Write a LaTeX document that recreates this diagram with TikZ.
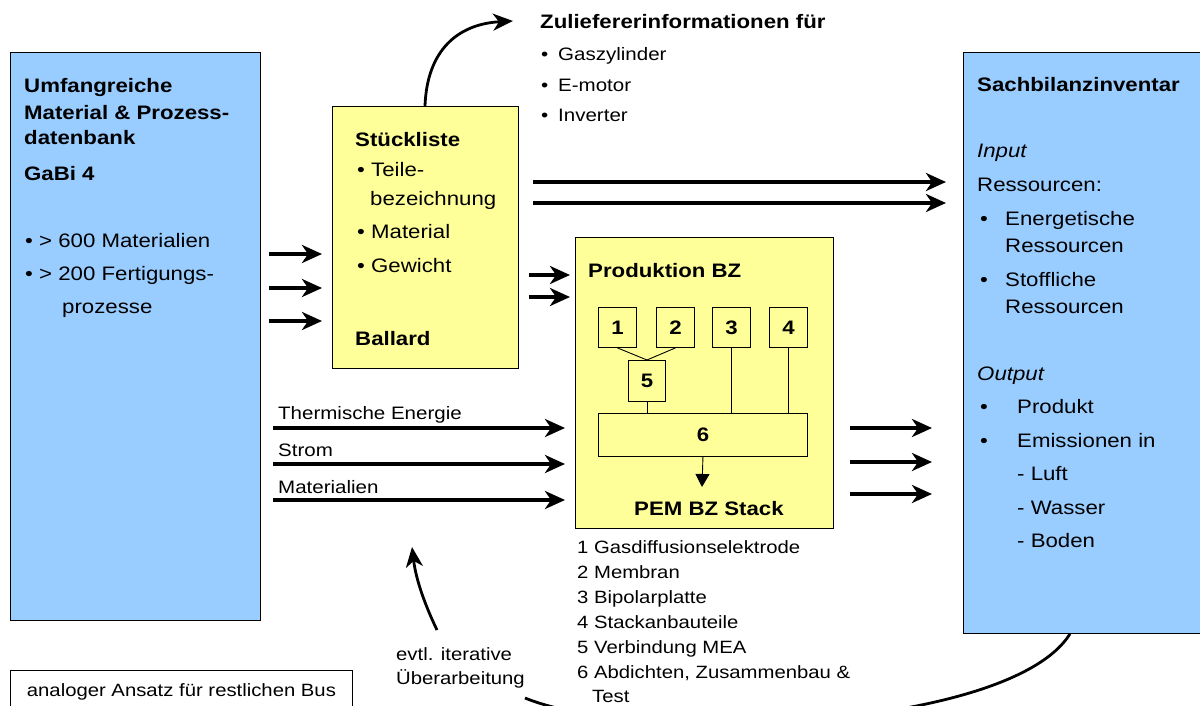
\documentclass[tikz,border=0pt]{standalone}
\usepackage{fontspec}
\setmainfont{Liberation Sans}[FakeStretch=1.14]
\usetikzlibrary{arrows.meta,calc}
\definecolor{lblue}{HTML}{99CCFF}
\definecolor{lyellow}{HTML}{FFFF99}
\begin{document}
\begin{tikzpicture}[x=1pt,y=-1pt,
  panel/.style={draw=black, line width=0.9pt, inner sep=0pt, anchor=north west},
  bluepanel/.style={panel, fill=lblue},
  yelpanel/.style={panel, fill=lyellow},
  numbox/.style={draw=black, line width=0.9pt, inner sep=0pt, anchor=north west, font=\fontsize{19.5}{22}\selectfont\bfseries},
  tx/.style={anchor=base west, inner sep=0pt, font=\fontsize{19.5}{22}\selectfont},
  btx/.style={tx, font=\fontsize{19.5}{22}\selectfont\bfseries},
  itx/.style={tx, font=\fontsize{19.5}{22}\selectfont\itshape},
  stx/.style={tx, font=\fontsize{17.8}{20}\selectfont},
  flow/.style={line width=3.6pt, -{Stealth[length=20pt,width=18pt,inset=6pt]}},
  curvearr/.style={line width=2.8pt, -{Stealth[length=20pt,width=17pt,inset=6pt]}},
  backline/.style={line width=2.8pt},
  link/.style={line width=0.9pt},
]
\useasboundingbox (0,0) rectangle (1200,706);
\clip (0,0) rectangle (1200,706);

% ---------- left database box ----------
\node[bluepanel, minimum width=250pt, minimum height=568pt] (L) at (10,52) {};
\node[btx] (l1) at (24,93) {Umfangreiche};
\node[btx] (l2) at (24,120) {Material \& Prozess-};
\node[btx] (l3) at (24,145) {datenbank};
\node[btx] (l4) at (24,180) {GaBi 4};
\node[tx] (l5) at (25,247) {• > 600 Materialien};
\node[tx] (l6) at (25,280) {• > 200 Fertigungs-};
\node[tx] (l7) at (62,313) {prozesse};

% ---------- Stueckliste ----------
\node[yelpanel, minimum width=186pt, minimum height=262pt] (S) at (332,106) {};
\node[btx] (s1) at (355,147) {Stückliste};
\node[tx] (s2) at (357,177) {• Teile-};
\node[tx] (s3) at (370,205) {bezeichnung};
\node[tx] (s4) at (357,238) {• Material};
\node[tx] (s5) at (357,272) {• Gewicht};
\node[btx] (s6) at (355,345) {Ballard};

% ---------- Zulieferer ----------
\node[btx] (z0) at (540,29) {Zuliefererinformationen für};
\node[tx, font=\fontsize{18}{20}\selectfont] (zb1) at (541,61) {•};
\node[tx, font=\fontsize{18}{20}\selectfont] (z1) at (558,61) {Gaszylinder};
\node[tx, font=\fontsize{18}{20}\selectfont] (zb2) at (541,92) {•};
\node[tx, font=\fontsize{18}{20}\selectfont] (z2) at (558,92) {E-motor};
\node[tx, font=\fontsize{18}{20}\selectfont] (zb3) at (541,122) {•};
\node[tx, font=\fontsize{18}{20}\selectfont] (z3) at (558,122) {Inverter};
\coordinate (ztip) at (513,21);
\draw[curvearr] (S.north -| 425,0) .. controls (427,50) and (458,24) .. (ztip);

% ---------- Produktion BZ ----------
\node[yelpanel, minimum width=258pt, minimum height=291pt] (P) at (575,237) {};
\node[btx] (p0) at (588,277) {Produktion BZ};
\node[numbox, minimum width=38pt, minimum height=40pt] (b1) at (598,307) {1};
\node[numbox, minimum width=38pt, minimum height=40pt] (b2) at (656,307) {2};
\node[numbox, minimum width=38pt, minimum height=40pt] (b3) at (712,307) {3};
\node[numbox, minimum width=38pt, minimum height=40pt] (b4) at (769,307) {4};
\node[numbox, minimum width=37pt, minimum height=41pt] (b5) at (628,360) {5};
\node[numbox, minimum width=209pt, minimum height=43pt] (b6) at (598,413) {6};
\draw[link] (b1.south) -- (b5.north);
\draw[link] (b2.south) -- (b5.north);
\draw[link] (b5.south) -- (b5.south |- b6.north);
\draw[link] (b3.south) -- (b3.south |- b6.north);
\draw[link] (b4.south) -- (b4.south |- b6.north);
\node[btx] (pem) at (634,515) {PEM BZ Stack};
\coordinate (pemtop) at (702,487);
\draw[link, -{Triangle[length=13pt,width=14pt]}] (b6.south) -- (pemtop);

% ---------- legend ----------
\node[stx] (g1) at (577,553) {1 Gasdiffusionselektrode};
\node[stx] (g2) at (577,578) {2 Membran};
\node[stx] (g3) at (577,603) {3 Bipolarplatte};
\node[stx] (g4) at (577,628) {4 Stackanbauteile};
\node[stx] (g5) at (577,653) {5 Verbindung MEA};
\node[stx] (g6) at (577,678) {6 Abdichten, Zusammenbau \&};
\node[stx] (g7) at (592,702) {Test};

% ---------- right inventory box ----------
\node[bluepanel, minimum width=260pt, minimum height=581pt] (R) at (963,52) {};
\node[btx] (r0) at (977,92) {Sachbilanzinventar};
\node[itx] (r1) at (977,158) {Input};
\node[tx] (r2) at (977,192) {Ressourcen:};
\node[tx] (rb1) at (980,225) {•};
\node[tx] (r3) at (1005,225) {Energetische};
\node[tx] (r4) at (1005,252) {Ressourcen};
\node[tx] (rb2) at (980,286) {•};
\node[tx] (r5) at (1005,286) {Stoffliche};
\node[tx] (r6) at (1005,313) {Ressourcen};
\node[itx] (r7) at (977,380) {Output};
\node[tx] (rb3) at (980,413) {•};
\node[tx] (r8) at (1017,413) {Produkt};
\node[tx] (rb4) at (980,447) {•};
\node[tx] (r9) at (1017,447) {Emissionen in};
\node[tx] (r10) at (1017,480) {- Luft};
\node[tx] (r11) at (1017,514) {- Wasser};
\node[tx] (r12) at (1017,547) {- Boden};

% ---------- arrows ----------
\foreach \yy in {254,288,321}
  \draw[flow, shorten <=8pt, shorten >=10pt] (L.east |- 0,\yy) -- (S.west |- 0,\yy);
\foreach \yy in {275,297}
  \draw[flow, shorten <=10pt, shorten >=5pt] (S.east |- 0,\yy) -- (P.west |- 0,\yy);
\foreach \yy in {182,203}
  \draw[flow, shorten <=14pt, shorten >=17pt] (S.east |- 0,\yy) -- (R.west |- 0,\yy);
\foreach \yy in {428,464,500}
  \draw[flow, shorten <=12pt, shorten >=10pt] (L.east |- 0,\yy) -- (P.west |- 0,\yy);
\foreach \yy in {428,462,494}
  \draw[flow, shorten <=16pt, shorten >=31pt] (P.east |- 0,\yy) -- (R.west |- 0,\yy);

\node[stx, font=\fontsize{18}{20}\selectfont] (f1) at (278,419) {Thermische Energie};
\node[stx, font=\fontsize{18}{20}\selectfont] (f2) at (278,456) {Strom};
\node[stx, font=\fontsize{18}{20}\selectfont] (f3) at (278,493) {Materialien};

% ---------- feedback ----------
\node[stx] (e1) at (396,660) {evtl. iterative};
\node[stx] (e2) at (396,684) {Überarbeitung};
\coordinate (ua) at (437,630);
\coordinate (ub) at (412,547);
\draw[curvearr] (ua) .. controls (425,605) and (416,580) .. (ub);
\coordinate (bl) at (525,698);
\draw[backline] (R.south -| 1070,0) .. controls (1010,730) and (640,745) .. (bl);

% ---------- note ----------
\node[panel, fill=white, minimum width=342pt, minimum height=42pt, font=\fontsize{17.8}{20}\selectfont] (A) at (10,670) {analoger Ansatz für restlichen Bus};
\end{tikzpicture}
\end{document}
